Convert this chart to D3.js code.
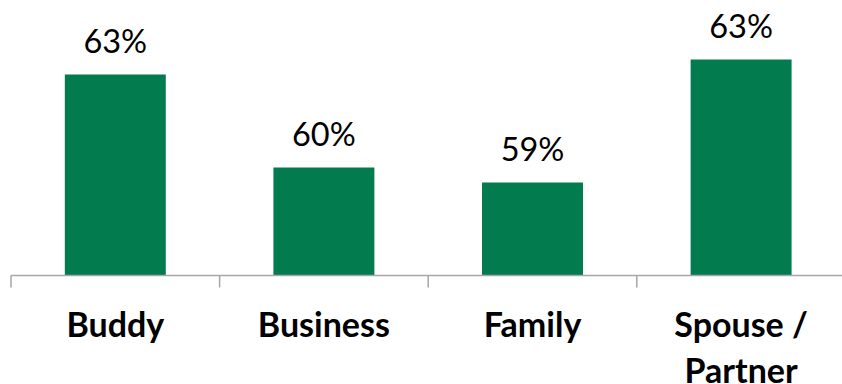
<!DOCTYPE html>
<html>
<head>
<meta charset="utf-8">
<script src="https://cdn.jsdelivr.net/npm/d3@7"></script>
<style>
  html, body { margin: 0; padding: 0; background: #fff; }
  svg { display: block; }
</style>
</head>
<body>
<svg id="chart" width="842" height="384"></svg>
<script>
// Share of respondents by travel companion type (percent)
const categories = ["Buddy", "Business", "Family", "Spouse / Partner"];
const values = [62.7, 59.6, 59.1, 63.2];
// Category labels split into display lines
const categoryLines = [["Buddy"], ["Business"], ["Family"], ["Spouse /", "Partner"]];

const width = 842, height = 384;
const baseY = 275.5;
const barColor = "#027B4F";
const axisColor = "#A6A6A6";
const fontFamily = "Lato, 'Open Sans', 'Liberation Sans', sans-serif";

const svg = d3.select("#chart");

const x = d3.scaleBand()
  .domain(categories)
  .range([11, 845.4])
  .paddingInner(0.516)
  .paddingOuter(0.258);

// Value axis starts above zero, as in the source chart
const y = d3.scaleLinear()
  .domain([56, 65])
  .range([baseY, 5.5]);

// Bars
svg.append("g")
  .selectAll("rect")
  .data(categories)
  .join("rect")
  .attr("x", d => x(d))
  .attr("width", x.bandwidth())
  .attr("y", (d, i) => y(values[i]))
  .attr("height", (d, i) => baseY - y(values[i]))
  .attr("fill", barColor);

// Value labels
const fmt = v => d3.format(".0f")(v) + "%";
svg.append("g")
  .selectAll("text")
  .data(categories)
  .join("text")
  .attr("x", d => x(d) + x.bandwidth() / 2)
  .attr("y", (d, i) => y(values[i]) - 22)
  .attr("text-anchor", "middle")
  .attr("font-family", fontFamily)
  .attr("font-size", 32.5)
  .attr("fill", "#000")
  .text((d, i) => fmt(values[i]));

// Category axis: baseline with ticks at the band boundaries
const axis = svg.append("g").attr("transform", `translate(0,${baseY})`);
axis.append("line")
  .attr("x1", 11).attr("x2", width)
  .attr("y1", 0).attr("y2", 0)
  .attr("stroke", axisColor)
  .attr("stroke-width", 1.5);

const boundaries = categories.map(d => x(d) - x.step() * x.paddingOuter());
boundaries.push(x.range()[1]);
axis.selectAll("line.tick")
  .data(boundaries)
  .join("line")
  .attr("class", "tick")
  .attr("x1", d => d).attr("x2", d => d)
  .attr("y1", 0).attr("y2", 12)
  .attr("stroke", axisColor)
  .attr("stroke-width", 1.5);

// Category labels
const labels = svg.append("g")
  .selectAll("text")
  .data(categories)
  .join("text")
  .attr("x", d => x(d) + x.bandwidth() / 2)
  .attr("y", 337)
  .attr("text-anchor", "middle")
  .attr("font-family", fontFamily)
  .attr("font-weight", "bold")
  .attr("font-size", 34)
  .attr("fill", "#000");

labels.selectAll("tspan")
  .data((d, i) => categoryLines[i])
  .join("tspan")
  .attr("x", function() { return d3.select(this.parentNode).attr("x"); })
  .attr("dy", (d, j) => j === 0 ? 0 : 46)
  .text(d => d);
</script>
</body>
</html>
